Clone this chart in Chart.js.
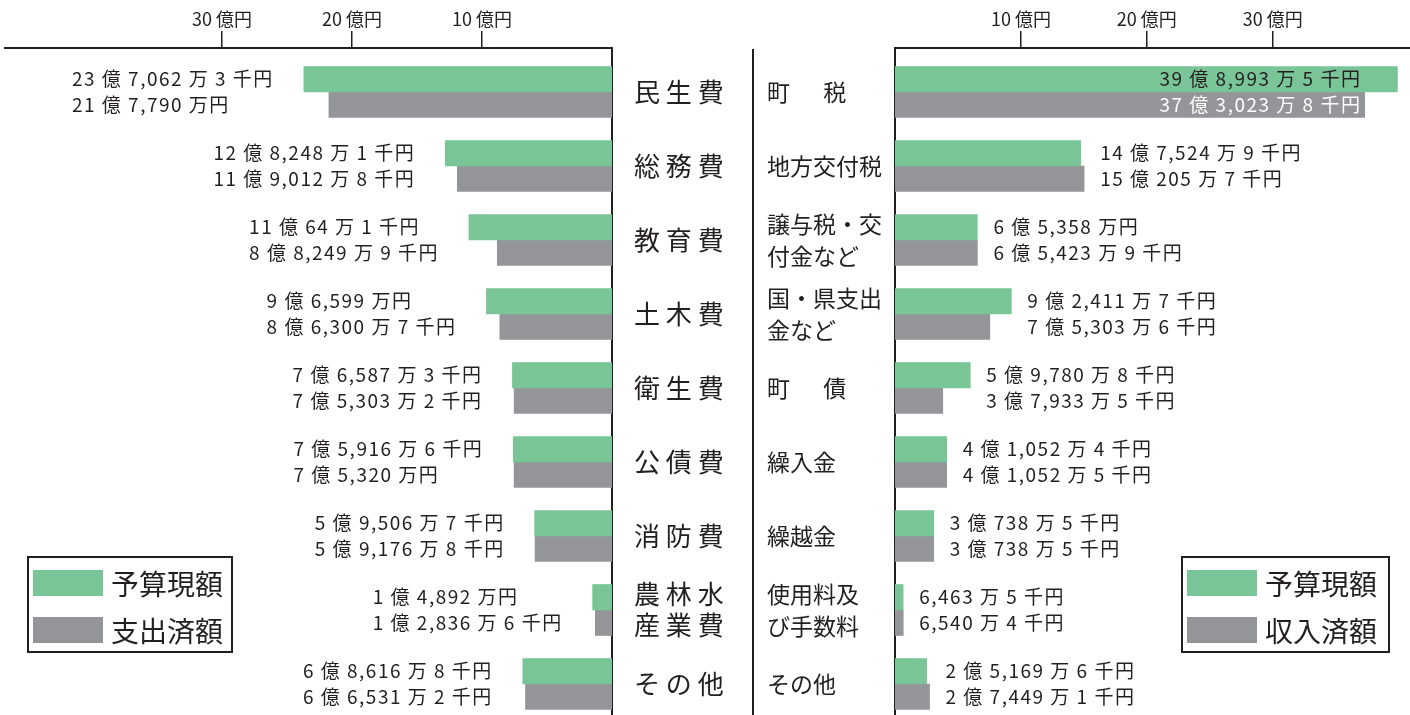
<!DOCTYPE html>
<html lang="ja">
<head>
<meta charset="utf-8">
<title>歳出・歳入</title>
<script src="https://cdn.jsdelivr.net/npm/chart.js@4.4.1/dist/chart.umd.min.js"></script>
<style>
  html, body { margin: 0; padding: 0; background: #fff; }
  body { width: 1410px; height: 715px; position: relative; overflow: hidden; font-family: "Noto Sans CJK JP", sans-serif; color: #231f20; }
  canvas { position: absolute; top: 0; }
  #left { left: 0; }
  #right { left: 752px; }
  .legend { position: absolute; top: 556px; height: 97px; border: 2px solid #231f20; box-sizing: border-box; }
  .legend .sw { position: absolute; width: 70px; height: 26px; }
  .legend .tx { position: absolute; font-size: 28px; line-height: 28px; white-space: nowrap; }
</style>
</head>
<body>
<canvas id="left" width="752" height="715"></canvas>
<canvas id="right" width="658" height="715"></canvas>
<div class="legend" id="legLeft" style="left:27px;width:206px"></div>
<div class="legend" id="legRight" style="left:1181px;width:209px"></div>
<script>
// 歳出（千円）
const expCats = [['民 生 費'], ['総 務 費'], ['教 育 費'], ['土 木 費'], ['衛 生 費'], ['公 債 費'], ['消 防 費'], ['農 林 水', '産 業 費'], ['そ の 他']];
const expBudget = [2370623, 1282481, 1100641, 965990, 765873, 759166, 595067, 148920, 686168];
const expSpent = [2177900, 1190128, 882499, 863007, 753032, 753200, 591768, 128366, 665312];

// 歳入（千円）
const revCats = [['町 　 税'], ['地方交付税'], ['譲与税・交', '付金など'], ['国・県支出', '金など'], ['町 　 債'], ['繰入金'], ['繰越金'], ['使用料及', 'び手数料'], ['その他']];
const revBudget = [3989935, 1475249, 653580, 924117, 597808, 410524, 307385, 64635, 251696];
const revIncome = [3730238, 1502057, 654239, 753036, 379335, 410525, 307385, 65404, 274491];

const tickVals = [10, 20, 30];

const ink = '#231f20';
const green = '#79c597';
const gray = '#939598';
const font = '"Noto Sans CJK JP", sans-serif';

// 千円 -> "23 億 7,062 万 3 千円"
function yen(v) {
  const oku = Math.floor(v / 100000);
  const man = Math.floor((v % 100000) / 10);
  const sen = v % 10;
  let s = oku ? oku + ' 億 ' : '';
  s += man.toLocaleString('en-US') + ' 万';
  s += sen ? ' ' + sen + ' 千円' : '円';
  return s;
}

const toPoints = arr => arr.map((v, i) => ({ x: v / 100000, y: i, sen: v }));

const valueLabels = {
  id: 'valueLabels',
  afterDatasetsDraw(chart, args, opts) {
    const { ctx, chartArea } = chart;
    const sets = chart.data.datasets;
    const metas = sets.map((d, k) => chart.getDatasetMeta(k));
    ctx.save();
    ctx.font = '19px ' + font;
    if ('letterSpacing' in ctx) ctx.letterSpacing = '1.5px';
    ctx.textBaseline = 'middle';
    for (let i = 0; i < sets[0].data.length; i++) {
      const bars = metas.map(m => m.data[i]);
      const texts = sets.map(d => yen(d.data[i].sen));
      const w = Math.max(...texts.map(t => ctx.measureText(t).width));
      if (opts.side === 'left') {
        const start = Math.min(...bars.map(b => b.x)) - 30 - w;
        ctx.textAlign = 'left';
        texts.forEach((t, k) => { ctx.fillStyle = ink; ctx.fillText(t, start, bars[k].y); });
      } else {
        const far = Math.max(...bars.map(b => b.x));
        const start = far + 16;
        if (start + w > chartArea.right) {
          // does not fit outside: write inside the bars
          ctx.textAlign = 'right';
          texts.forEach((t, k) => { ctx.fillStyle = k === 0 ? ink : '#fff'; ctx.fillText(t, far - 36, bars[k].y); });
        } else {
          ctx.textAlign = 'left';
          texts.forEach((t, k) => { ctx.fillStyle = ink; ctx.fillText(t, start, bars[k].y); });
        }
      }
    }
    ctx.restore();
  }
};

const midLine = {
  id: 'midLine',
  afterDraw(chart) {
    const { ctx, chartArea } = chart;
    ctx.save();
    ctx.strokeStyle = ink;
    ctx.lineWidth = 2;
    ctx.beginPath();
    ctx.moveTo(1, chartArea.top + 1);
    ctx.lineTo(1, chart.height);
    ctx.stroke();
    ctx.restore();
  }
};

function noPad(s) {
  s.paddingTop = 0; s.paddingBottom = 0; s.paddingLeft = 0; s.paddingRight = 0;
}

function xAxis(max, reverse) {
  return {
    type: 'linear', position: 'top', min: 0, max, reverse,
    afterBuildTicks: s => { s.ticks = tickVals.map(v => ({ value: v })); },
    afterFit: s => { s.height = 48; noPad(s); },
    grid: { drawOnChartArea: false, drawTicks: true, tickLength: 17, tickWidth: 1.5, tickColor: ink, color: ink, lineWidth: 1.5 },
    border: { display: true, color: ink, width: 2 },
    ticks: { padding: 1, color: ink, autoSkip: false, maxRotation: 0, font: { family: font, size: 18 }, callback: v => v + ' 億円' }
  };
}

function yAxis(cats, position, width, crossAlign, padding, size) {
  return {
    type: 'linear', position, reverse: true, offset: false, min: -0.5946, max: 8.419,
    afterBuildTicks: s => { s.ticks = cats.map((c, i) => ({ value: i })); },
    afterFit: s => { s.width = width; noPad(s); },
    grid: { display: false, drawTicks: false },
    border: { display: true, color: ink, width: 2 },
    ticks: { padding, crossAlign, color: ink, autoSkip: false, font: { family: font, size, lineHeight: size === 26 ? 1.2 : 1.4 }, callback: v => cats[v] }
  };
}

function makeChart(id, cats, a, b, labels, side) {
  const left = side === 'left';
  return new Chart(document.getElementById(id), {
    type: 'bar',
    data: {
      datasets: [
        { label: labels[0], data: toPoints(a), backgroundColor: green, barThickness: 25.5 },
        { label: labels[1], data: toPoints(b), backgroundColor: gray, barThickness: 25.5 }
      ]
    },
    options: {
      indexAxis: 'y',
      responsive: false,
      animation: false,
      layout: { padding: left ? { left: 5, top: 0, right: 0, bottom: 0 } : { left: 15, top: 0, right: 0, bottom: 0 } },
      scales: left
        ? { x: xAxis(46.7, true), y: yAxis(cats, 'right', 140, 'center', 22, 26) }
        : { x: xAxis(40.9, false), y: yAxis(cats, 'left', 128, 'far', 0, 23) },
      plugins: {
        legend: { display: false },
        tooltip: { enabled: false },
        valueLabels: { side }
      }
    },
    plugins: left ? [valueLabels] : [valueLabels, midLine]
  });
}

function legend(el, chart) {
  chart.data.datasets.forEach((d, k) => {
    const top = 12 + k * 47;
    el.insertAdjacentHTML('beforeend',
      `<div class="sw" style="left:4px;top:${top}px;background:${d.backgroundColor}"></div>` +
      `<div class="tx" style="left:82px;top:${top - 1}px">${d.label}</div>`);
  });
}

const leftChart = makeChart('left', expCats, expBudget, expSpent, ['予算現額', '支出済額'], 'left');
const rightChart = makeChart('right', revCats, revBudget, revIncome, ['予算現額', '収入済額'], 'right');
legend(document.getElementById('legLeft'), leftChart);
legend(document.getElementById('legRight'), rightChart);
</script>
</body>
</html>
